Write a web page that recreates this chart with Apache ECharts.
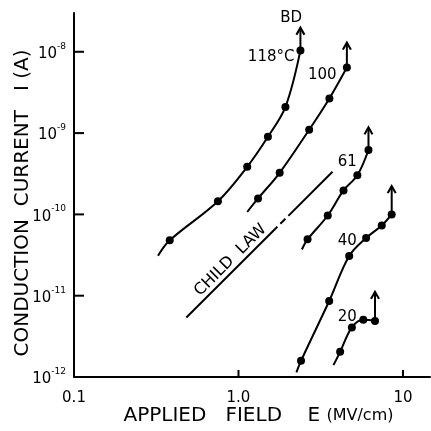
<!DOCTYPE html>
<html>
<head>
<meta charset="utf-8">
<script src="https://cdn.jsdelivr.net/npm/echarts@6/dist/echarts.min.js"></script>
<style>
    html, body { margin: 0; padding: 0; background: #fff; }
    #chart { width: 431px; height: 431px; }
</style>
</head>
<body>
<div id="chart"></div>
<script>
// measured points, [E (MV/cm), I (A)]
var pts118 = [[0.382, 4.8e-11], [0.75, 1.45e-10], [1.13, 3.85e-10], [1.51, 9.0e-10], [1.93, 2.1e-9], [2.38, 1.04e-8]];
var pts100 = [[1.315, 1.57e-10], [1.78, 3.25e-10], [2.69, 1.1e-9], [3.57, 2.67e-9], [4.56, 6.4e-9]];
var pts61 = [[2.63, 4.93e-11], [3.49, 9.7e-11], [4.35, 1.97e-10], [5.28, 3.03e-10], [6.17, 6.2e-10]];
var pts40 = [[2.40, 1.58e-12], [3.56, 8.6e-12], [4.71, 3.08e-11], [5.97, 5.13e-11], [7.43, 7.3e-11], [8.54, 1.0e-10]];
var pts20 = [[4.15, 2.04e-12], [4.89, 4.07e-12], [5.74, 5.05e-12], [6.76, 4.9e-12]];
var allPts = [pts118, pts100, pts61, pts40, pts20];

// where each fitted curve starts (below the first point)
var curveStart = [[0.324, 3.1e-11], [1.13, 1.07e-10], [2.43, 3.7e-11], [2.25, 1.14e-12], [3.78, 1.4e-12]];
// breakdown arrows go straight up from the last point to here
var arrowTop = [1.95e-8, 1.28e-8, 1.16e-9, 2.2e-10, 1.1e-11];

// child law line (drawn with two small breaks, '-' = gap)
var childLaw = [[0.482, 5.4e-12], [1.723, 7.05e-11], '-', [1.797, 7.67e-11], [1.928, 8.83e-11], '-', [2.01, 9.6e-11], [3.73, 3.34e-10]];

// curve labels
var noteText = ['BD', '118°C', '100', '61', '40', '20', 'CHILD  LAW'];
var notePos = [[2.09, 2.61e-8], [1.58, 8.7e-9], [3.23, 5.2e-9], [4.58, 4.35e-10], [4.58, 4.66e-11], [4.58, 5.45e-12], [0.894, 2.73e-11]];

// axes
var xMin = 0.1, xMax = 14.6;
var yMin = 1e-12, yMax = 3.0e-8;
var xTicks = [0.1, 1, 10];
var xTickLabels = ['0.1', '1.0', '10'];
var xInnerTicks = [1, 10];
var yTicks = [1e-12, 1e-11, 1e-10, 1e-9, 1e-8];
var yTickExp = ['-12', '-11', '-10', '-9', '-8'];

var FONT = 'DejaVu Sans';
var chart = echarts.init(document.getElementById('chart'));

var series = [];
allPts.forEach(function (pts, i) {
    // fitted curve
    series.push({
        type: 'line',
        smooth: 0.35,
        symbol: 'none',
        silent: true,
        lineStyle: { color: '#000', width: 2 },
        data: [curveStart[i]].concat(pts)
    });
    // arrow
    var last = pts[pts.length - 1];
    series.push({
        type: 'line',
        symbol: 'none',
        silent: true,
        lineStyle: { color: '#000', width: 2 },
        itemStyle: { color: 'rgba(0,0,0,0)', borderColor: '#000', borderWidth: 2 },
        data: [
            last,
            {
                value: [last[0], arrowTop[i]],
                symbol: 'path://M0,10L6,0L12,10',
                symbolSize: [8, 7],
                symbolOffset: [0, 3]
            }
        ]
    });
    // measured points
    series.push({
        type: 'scatter',
        symbol: 'circle',
        symbolSize: 8,
        silent: true,
        itemStyle: { color: '#000', opacity: 1 },
        data: pts
    });
});

series.push({
    type: 'line',
    symbol: 'none',
    silent: true,
    connectNulls: false,
    lineStyle: { color: '#000', width: 2 },
    data: childLaw
});

// inward tick marks on the axes
series.push({
    type: 'scatter',
    symbol: 'rect',
    symbolSize: [10, 2],
    symbolOffset: [5, 0],
    clip: false,
    silent: true,
    z: 5,
    itemStyle: { color: '#000', opacity: 1 },
    data: yTicks.map(function (y) { return [xMin, y]; })
});
series.push({
    type: 'scatter',
    symbol: 'rect',
    symbolSize: [2, 7],
    symbolOffset: [0, -3.5],
    clip: false,
    silent: true,
    z: 5,
    itemStyle: { color: '#000', opacity: 1 },
    data: xInnerTicks.map(function (x) { return [x, yMin]; })
});

series.push({
    type: 'scatter',
    symbolSize: 0,
    silent: true,
    itemStyle: { opacity: 1 },
    label: {
        show: true,
        position: 'inside',
        color: '#000',
        textBorderWidth: 0,
        fontFamily: FONT,
        fontSize: 15,
        formatter: function (p) { return noteText[p.dataIndex]; }
    },
    data: notePos.map(function (p, i) {
        var item = { value: p };
        if (i === noteText.length - 1) item.label = { rotate: 45, fontSize: 16 };
        return item;
    })
});

function near(v, list) {
    for (var i = 0; i < list.length; i++) {
        if (Math.abs(Math.log10(v) - Math.log10(list[i])) < 1e-6) return i;
    }
    return -1;
}

var option = {
    animation: false,
    backgroundColor: '#fff',
    grid: { left: 74, right: 1, top: 13, bottom: 54, outerBoundsMode: 'none' },
    xAxis: {
        type: 'log',
        logBase: 10,
        min: xMin,
        max: xMax,
        name: 'APPLIED   FIELD    E {s|(MV/cm)}',
        nameLocation: 'middle',
        nameGap: 29,
        nameMoveOverlap: false,
        nameTextStyle: {
            color: '#000', fontFamily: FONT, fontSize: 20,
            padding: [0, 0, 0, 13],
            rich: { s: { fontFamily: FONT, fontSize: 16, color: '#000' } }
        },
        axisLine: { lineStyle: { color: '#000', width: 2 } },
        axisTick: { show: false },
        splitLine: { show: false },
        minorTick: { show: false },
        axisLabel: {
            color: '#000', fontFamily: FONT, fontSize: 15, margin: 14,
            formatter: function (v) {
                var k = near(v, xTicks);
                return k < 0 ? '' : xTickLabels[k];
            }
        }
    },
    yAxis: {
        type: 'log',
        logBase: 10,
        min: yMin,
        max: yMax,
        name: 'CONDUCTION  CURRENT   I (A)',
        nameLocation: 'middle',
        nameGap: 41,
        nameMoveOverlap: false,
        nameTextStyle: { color: '#000', fontFamily: FONT, fontSize: 20, padding: [0, 16, 0, 0] },
        axisLine: { lineStyle: { color: '#000', width: 2 } },
        axisTick: { show: false },
        splitLine: { show: false },
        minorTick: { show: false },
        axisLabel: {
            color: '#000', fontFamily: FONT, margin: 8,
            formatter: function (v) {
                var k = near(v, yTicks);
                return k < 0 ? '' : '{b|10}{s|' + yTickExp[k] + '}';
            },
            rich: {
                b: { fontFamily: FONT, fontSize: 15, color: '#000', lineHeight: 20, verticalAlign: 'bottom' },
                s: { fontFamily: FONT, fontSize: 9, color: '#000', verticalAlign: 'top' }
            }
        }
    },
    series: series
};

chart.setOption(option);
</script>
</body>
</html>
